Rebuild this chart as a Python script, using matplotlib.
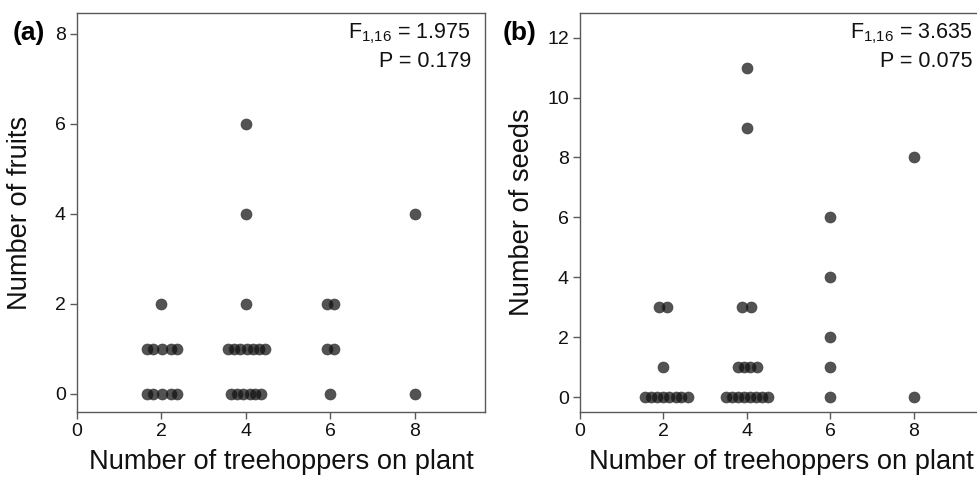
import matplotlib
matplotlib.use("Agg")
import matplotlib.pyplot as plt

plt.rcParams['font.family'] = ['Liberation Sans', 'DejaVu Sans']
plt.rcParams['mathtext.fontset'] = 'custom'
plt.rcParams['mathtext.rm'] = 'Liberation Sans'
plt.rcParams['mathtext.it'] = 'Liberation Sans:italic'
plt.rcParams['mathtext.bf'] = 'Liberation Sans:bold'

# ---- data (x = treehoppers on plant, as plotted with dot-plot spreading) ----
fruits_x = [1.66, 1.80, 2.01, 2.23, 2.37,
            1.66, 1.80, 2.01, 2.23, 2.37,
            2.00,
            3.66, 3.80, 3.94, 4.09, 4.23, 4.37,
            3.58, 3.73, 3.87, 4.02, 4.16, 4.31, 4.45,
            4.00, 4.00, 4.00,
            6.00, 5.92, 6.09, 5.92, 6.09,
            8.00, 8.00]
fruits_y = [0, 0, 0, 0, 0,
            1, 1, 1, 1, 1,
            2,
            0, 0, 0, 0, 0, 0,
            1, 1, 1, 1, 1, 1, 1,
            2, 4, 6,
            0, 1, 1, 2, 2,
            0, 4]

seeds_x = [1.56, 1.70, 1.85, 2.00, 2.14, 2.29, 2.43, 2.58,
           2.00, 1.89, 2.08,
           3.49, 3.63, 3.78, 3.92, 4.07, 4.21, 4.36, 4.50,
           3.78, 3.93, 4.08, 4.23,
           3.89, 4.09, 4.00, 4.00,
           6.00, 6.00, 6.00, 6.00, 6.00,
           8.00, 8.00]
seeds_y = [0, 0, 0, 0, 0, 0, 0, 0,
           1, 3, 3,
           0, 0, 0, 0, 0, 0, 0, 0,
           1, 1, 1, 1,
           3, 3, 9, 11,
           0, 1, 2, 4, 6,
           0, 8]

xticks = [0, 2, 4, 6, 8]
yticks_a = [0, 2, 4, 6, 8]
yticks_b = [0, 2, 4, 6, 8, 10, 12]
xlabel = "Number of treehoppers on plant"
ylabel_a = "Number of fruits"
ylabel_b = "Number of seeds"
stats_a = ["F$_{\\mathrm{1{,}16}}$ = 1.975", "P = 0.179"]
stats_b = ["F$_{\\mathrm{1{,}16}}$ = 3.635", "P = 0.075"]

W, H = 978, 478
fig = plt.figure(figsize=(W / 100, H / 100), dpi=100)

def px_axes(left, right, top, bottom):
    return fig.add_axes([left / W, (H - bottom) / H, (right - left) / W, (bottom - top) / H])

ax_a = px_axes(77, 485, 12.7, 412.3)
ax_b = px_axes(580, 983.7, 12.7, 412.3)

spine_col = '#595959'

def style(ax, x, y, ylim, yticks, ylabel, stats, label_x, inset):
    ax.scatter(x, y, s=62, facecolor='#101010', alpha=0.72,
               edgecolor='#303030', linewidth=0.6, zorder=3)
    ax.set_xlim(0, 9.67)
    ax.set_ylim(*ylim)
    ax.set_xticks(xticks)
    ax.set_yticks(yticks)
    ax.tick_params(direction='out', length=5, width=1, color=spine_col,
                   labelsize=14, labelcolor='#111111', pad=3)
    for s in ax.spines.values():
        s.set_color(spine_col)
        s.set_linewidth(1.0)
    ax.set_xlabel(xlabel, fontsize=19.6, color='#111111')
    ax.xaxis.set_label_coords(0.5, -0.093)
    ax.set_ylabel(ylabel, fontsize=19.6, color='#111111')
    ax.yaxis.set_label_coords(label_x, 0.5)
    ax.text(1 - inset, 1 - 25.5 / 400, stats[0], transform=ax.transAxes,
            ha='right', va='baseline', fontsize=15.5, color='#111111')
    ax.text(1 - inset, 1 - 54 / 400, stats[1], transform=ax.transAxes,
            ha='right', va='baseline', fontsize=15.5, color='#111111')

style(ax_a, fruits_x, fruits_y, (-0.41, 8.47), yticks_a, ylabel_a, stats_a, -0.107, 14 / 408)
style(ax_b, seeds_x, seeds_y, (-0.5, 12.83), yticks_b, ylabel_b, stats_b, -0.111, 11 / 404)

fig.text(13 / W, 1 - 40 / H, '(a)', fontsize=19, fontweight='bold', va='baseline', ha='left')
fig.text(503 / W, 1 - 40 / H, '(b)', fontsize=19, fontweight='bold', va='baseline', ha='left')

fig.savefig('out.png', dpi=100)
